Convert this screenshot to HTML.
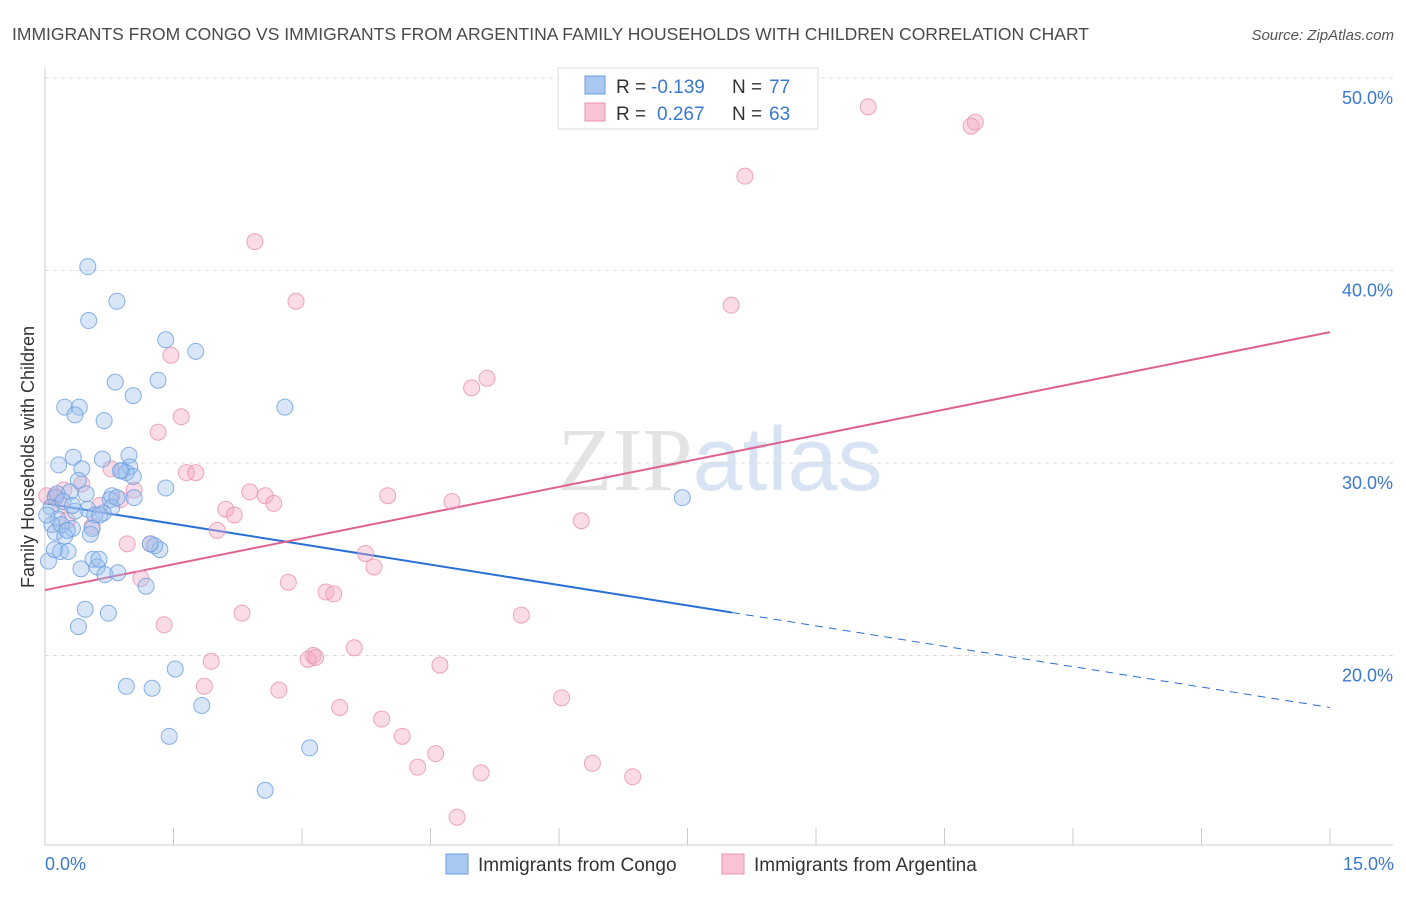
<!DOCTYPE html>
<html><head><meta charset="utf-8"><style>
body{margin:0;background:#fff;font-family:"Liberation Sans",sans-serif;}
svg text{font-family:"Liberation Sans",sans-serif;}
</style></head><body>
<svg id="chart" width="1406" height="892" viewBox="0 0 1406 892" xmlns="http://www.w3.org/2000/svg">
<text x="12" y="40" font-size="17.5" fill="#4a4a4a">IMMIGRANTS FROM CONGO VS IMMIGRANTS FROM ARGENTINA FAMILY HOUSEHOLDS WITH CHILDREN CORRELATION CHART</text>
<text x="1394" y="40" font-size="15" fill="#555" text-anchor="end" font-style="italic">Source: ZipAtlas.com</text>
<text x="720" y="490" font-size="90" text-anchor="middle" opacity="0.7"><tspan font-family="Liberation Serif" fill="#d8d8d8">ZIP</tspan><tspan fill="#c8daf0">atlas</tspan></text>
<g id="grid"></g>
<g id="axes"></g>
<g id="trend"></g>
<g id="points"></g>
<text transform="translate(34,457) rotate(-90)" font-size="18" fill="#333" text-anchor="middle">Family Households with Children</text>
<text x="45" y="870" font-size="18" fill="#3a78d0">0.0%</text>
<text x="1394" y="870" font-size="18" fill="#3a78d0" text-anchor="end">15.0%</text>
<g>
<rect x="558" y="68" width="260" height="61" fill="#fff" stroke="#ddd"/>
<rect x="585" y="76" width="20" height="18" fill="#a8c8f0" stroke="#6a9de0"/>
<rect x="585" y="103" width="20" height="18" fill="#f8c4d4" stroke="#e890b0"/>
<text x="616" y="93" font-size="19" fill="#333">R =</text>
<text x="651" y="93" font-size="19" fill="#3a78d0">-0.139</text>
<text x="732" y="93" font-size="19" fill="#333">N =</text>
<text x="769" y="93" font-size="19" fill="#3a78d0">77</text>
<text x="616" y="120" font-size="19" fill="#333">R =</text>
<text x="657" y="120" font-size="19" fill="#3a78d0">0.267</text>
<text x="732" y="120" font-size="19" fill="#333">N =</text>
<text x="769" y="120" font-size="19" fill="#3a78d0">63</text>
</g>
<g>
<rect x="446" y="854" width="22" height="20" fill="#a8c8f0" stroke="#6a9de0"/>
<text x="478" y="871" font-size="19" fill="#333">Immigrants from Congo</text>
<rect x="722" y="854" width="22" height="20" fill="#f8c4d4" stroke="#e890b0"/>
<text x="754" y="871" font-size="19" fill="#333">Immigrants from Argentina</text>
</g>
</svg>
<script>
const yTicks=[20,30,40,50];
const yTickLabels=["20.0%","30.0%","40.0%","50.0%"];
const congoX=[0.50,0.84,0.51,1.41,1.76,0.82,1.32,1.03,0.23,0.40,0.35,0.69,2.80,0.98,0.33,0.16,0.67,0.43,0.99,0.90,0.95,1.03,0.39,0.29,0.48,0.78,1.04,1.41,7.44,0.12,0.76,0.07,0.50,0.78,0.68,0.58,0.35,0.15,0.08,0.32,0.55,0.12,0.23,0.53,0.18,0.27,1.34,1.28,0.04,0.56,0.61,0.42,0.70,0.85,1.18,0.47,0.74,0.39,1.52,0.95,1.25,1.83,1.45,3.09,2.57,0.14,0.64,0.88,0.19,0.11,1.23,0.21,0.63,0.02,0.84,0.32,0.26];
const congoY=[40.2,38.4,37.4,36.4,35.8,34.2,34.3,33.5,32.9,32.9,32.5,32.2,32.9,30.4,30.3,29.9,30.2,29.7,29.8,29.6,29.5,29.3,29.1,28.5,28.4,28.3,28.2,28.7,28.2,28.2,28.1,27.7,27.6,27.7,27.4,27.3,27.5,27.1,26.8,26.6,26.6,26.4,26.2,26.3,25.4,25.4,25.5,25.7,24.9,25.0,24.6,24.5,24.2,24.3,23.6,22.4,22.2,21.5,19.3,18.4,18.3,17.4,15.8,15.2,13.0,28.4,27.3,29.6,26.8,25.5,25.8,28.0,25.0,27.3,28.2,27.8,26.5];
const argX=[9.61,10.86,10.81,8.17,2.45,2.93,8.01,1.47,5.16,4.98,1.59,1.32,1.65,1.76,0.77,0.43,0.22,0.12,1.04,2.39,2.57,2.67,4.00,4.75,2.11,2.21,0.64,0.26,0.55,2.01,6.26,0.96,1.23,3.74,3.84,2.84,1.12,3.28,3.37,2.30,5.56,1.39,1.94,3.13,3.07,3.16,3.61,4.61,1.86,2.73,6.03,3.44,3.93,4.17,4.56,4.35,5.09,6.39,6.86,4.81,0.02,0.18,0.88];
const argY=[48.5,47.7,47.5,44.9,41.5,38.4,38.2,35.6,34.4,33.9,32.4,31.6,29.5,29.5,29.7,28.9,28.6,28.3,28.6,28.5,28.3,27.9,28.3,28.0,27.6,27.3,27.8,27.0,26.7,26.5,27.0,25.8,25.8,25.3,24.6,23.8,24.0,23.3,23.2,22.2,22.1,21.6,19.7,20.0,19.8,19.9,20.4,19.5,18.4,18.2,17.8,17.3,16.7,15.8,14.9,14.2,13.9,14.4,13.7,11.6,28.3,27.8,28.1];
const congoTrend=[27.9,17.3];
const argTrend=[23.4,36.8];
const congoSolidEnd=8.02;

const X0=45,X1=1330,XMAX=15,Y50=78,PXPER=19.25;
function sx(v){return X0+(X1-X0)*v/XMAX;}
function sy(v){return Y50+(50-v)*PXPER;}
const NS="http://www.w3.org/2000/svg";
function mk(tag,attrs,parent){const e=document.createElementNS(NS,tag);for(const k in attrs)e.setAttribute(k,attrs[k]);parent.appendChild(e);return e;}
const grid=document.getElementById('grid'),axes=document.getElementById('axes'),trend=document.getElementById('trend'),pts=document.getElementById('points');
yTicks.forEach((t,i)=>{
  const l=mk('line',{x1:X0,x2:1393,y1:sy(t),y2:sy(t),stroke:'#ddd','stroke-dasharray':'4,4'},grid);
  
  
  const tx=mk('text',{x:1393,y:sy(t)+26,'font-size':18,fill:'#3a78d0','text-anchor':'end'},grid);
  tx.textContent=yTickLabels[i];
  
  
});
const ya=mk('line',{x1:X0,x2:X0,y1:68,y2:845,stroke:'#ccc'},axes);


const xa=mk('line',{x1:X0,x2:1393,y1:845,y2:845,stroke:'#ccc'},axes);


for(let i=0;i<=10;i++){
  const t=mk('line',{x1:sx(i*1.5),x2:sx(i*1.5),y1:828,y2:845,stroke:'#ccc'},axes);
  
  
}
function drawPts(xs,ys,fill,stroke,name){
  xs.forEach((x,i)=>{
    const c=mk('circle',{cx:sx(x),cy:sy(ys[i]),r:8,fill:fill,'fill-opacity':0.4,stroke:stroke,'stroke-opacity':0.8,'stroke-width':1},pts);
    
    
  });
}
drawPts(argX,argY,'#f4a8c0','#e890b0','argentina-point');
drawPts(congoX,congoY,'#9ec0ee','#6a9de0','congo-point');
const slope=(congoTrend[1]-congoTrend[0])/XMAX;
const cs=mk('line',{x1:sx(0),y1:sy(congoTrend[0]),x2:sx(congoSolidEnd),y2:sy(congoTrend[0]+slope*congoSolidEnd),stroke:'#2a6fd6','stroke-width':2},trend);


const cd=mk('line',{x1:sx(congoSolidEnd),y1:sy(congoTrend[0]+slope*congoSolidEnd),x2:sx(XMAX),y2:sy(congoTrend[1]),stroke:'#2a6fd6','stroke-width':1,'stroke-dasharray':'8,6'},trend);


const at=mk('line',{x1:sx(0),y1:sy(argTrend[0]),x2:sx(XMAX),y2:sy(argTrend[1]),stroke:'#e0608f','stroke-width':2},trend);


</script>
</body></html>
